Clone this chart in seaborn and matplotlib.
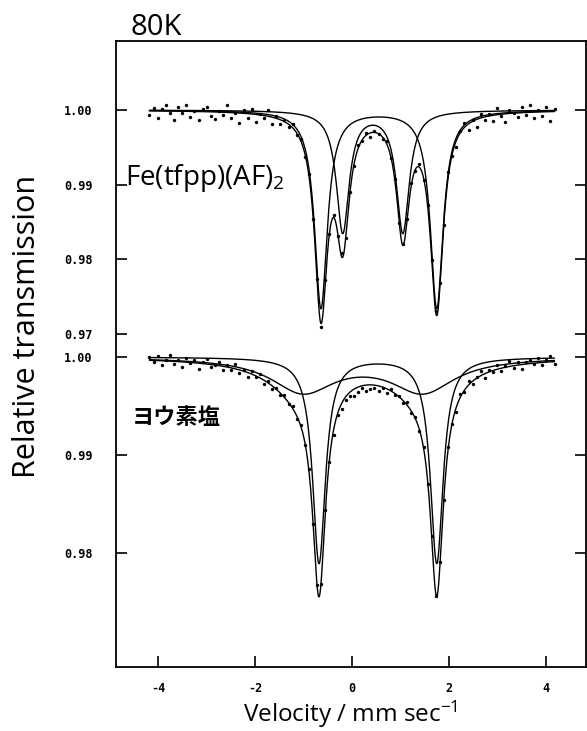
import numpy as np
import pandas as pd
import matplotlib
matplotlib.use("Agg")
import matplotlib.pyplot as plt
import seaborn as sns

sns.set_style("white")
plt.rcParams['font.family'] = ['Open Sans', 'DejaVu Sans']
plt.rcParams['mathtext.fontset'] = 'custom'
plt.rcParams['mathtext.rm'] = 'Open Sans'
plt.rcParams['mathtext.it'] = 'Open Sans'
plt.rcParams['mathtext.bf'] = 'Open Sans:bold'
for k in ['text.color', 'axes.labelcolor', 'xtick.color', 'ytick.color', 'axes.edgecolor']:
    plt.rcParams[k] = 'black'

# ---------------- data ----------------
title_text = "80K"
label_upper = "Fe(tfpp)(AF)$_2$"
label_lower = "ヨウ素塩"
xlabel_text = "Velocity / mm sec$^{-1}$"
ylabel_text = "Relative transmission"

x_ticks = [-4, -2, 0, 2, 4]
x_tick_labels = ["-4", "-2", "0", "2", "4"]
y_ticks_upper = [1.00, 0.99, 0.98, 0.97]
y_tick_labels_upper = ["1.00", "0.99", "0.98", "0.97"]
y_ticks_lower = [1.00, 0.99, 0.98]
y_tick_labels_lower = ["1.00", "0.99", "0.98"]

# fitted doublets: (line 1 velocity, line 2 velocity, depth, half width)
upper_doublet_a = (-0.64, 1.75, 0.0265, 0.16)
upper_doublet_b = (-0.19, 1.05, 0.0163, 0.16)
lower_doublet_narrow = (-0.68, 1.75, 0.0210, 0.16)
lower_doublet_broad = (-1.01, 1.46, 0.00347, 0.80)

velocity_range = (-4.18, 4.18)
n_channels = 100

# residuals of the measured points from the fit (units of 1e-4)
resid_upper = [-6, 4, -10, 2, 8, -3, -12, 5, -2, 9, -8, 1, -11, 3, 6, -5, -9, 2, -4, 10,
               -7, 0, -13, 4, -6, 7, -10, 1, -3, 8, -9, 3, -6, 2, -4,
               5, -3, 2, -4, 3, -2, 4, -5, 2, -1, 3, -4, 5, -2, 1, -3, 4, -2, 3, -5,
               2, -1, -3, 4, -2, 3, -4, 2, -1, 3, -2, 4, -3, 2, -1, 3,
               4, -6, 8, -3, -9, 2, 6, -8, 1, -10, 5, -4, 3, -7, 9, -2, -11, 4, 0,
               -6, 7, -3, 10, -8, 2, -5, 6, -12, 3]
resid_lower = [3, -2, 5, -4, 1, 6, -3, 2, -5, 4, -1, 3, -6, 2, 5, -3, 0, 4, -4, 2,
               -2, 5, -3, 1, -5, 3, -1, 4, -4, 2, -3, 1, -2, 3, -1,
               2, -3, 1, -2, 3, -1, 2, -4, 1, -3, -5, -2, -6, -3, -4, -7, -5, -2, -6,
               -4, -3, -5, -1, -4, 2, -1, 1, -2, 3, -2, 2, -1, 1, -3, 2, -2,
               3, -4, 2, -1, -5, 3, -2, 4, -3, 1, 5, -4, 2, -2, 4, -3, 1, 6, -2,
               3, -5, 2, 4, -1, 5, -3, 2, 6, -2]


def doublet(v, p):
    v1, v2, d, g = p
    return d * g**2 / ((v - v1)**2 + g**2) + d * g**2 / ((v - v2)**2 + g**2)


v_fine = np.linspace(velocity_range[0], velocity_range[1], 1200)
v_data = np.linspace(velocity_range[0], velocity_range[1], n_channels)

# ---------------- figure ----------------
W, H = 587, 731
fig = plt.figure(figsize=(W / 100, H / 100), dpi=100)
fig.patch.set_facecolor("white")
pos = [116 / W, 64 / H, 470 / W, 626 / H]
ax_lo = fig.add_axes(pos)
ax_up = fig.add_axes(pos)
ax_up.patch.set_visible(False)
for s in ax_up.spines.values():
    s.set_visible(False)
for s in ax_lo.spines.values():
    s.set_linewidth(1.3)
    s.set_color("black")

xlim = (-4.87, 4.83)
ax_lo.set_xlim(*xlim)
ax_up.set_xlim(*xlim)
ax_up.set_ylim(0.92541, 1.00924)
ax_lo.set_ylim(0.96837, 1.03224)

line_kw = dict(color="black", linewidth=1.0, estimator=None, sort=False, legend=False)
pt_kw = dict(color="black", s=6, linewidth=0, legend=False)

# upper spectrum
a_up = doublet(v_fine, upper_doublet_a)
b_up = doublet(v_fine, upper_doublet_b)
sns.lineplot(x=v_fine, y=1 - a_up, ax=ax_up, **line_kw)
sns.lineplot(x=v_fine, y=1 - b_up, ax=ax_up, **line_kw)
sns.lineplot(x=v_fine, y=1 - a_up - b_up, ax=ax_up, **line_kw)
fit_up_data = 1 - doublet(v_data, upper_doublet_a) - doublet(v_data, upper_doublet_b)
df_up = pd.DataFrame({"v": v_data, "T": fit_up_data + np.array(resid_upper) * 1e-4})
sns.scatterplot(data=df_up, x="v", y="T", ax=ax_up, **pt_kw)

# lower spectrum
n_lo = doublet(v_fine, lower_doublet_narrow)
b_lo = doublet(v_fine, lower_doublet_broad)
sns.lineplot(x=v_fine, y=1 - n_lo, ax=ax_lo, **line_kw)
sns.lineplot(x=v_fine, y=1 - b_lo, ax=ax_lo, **line_kw)
sns.lineplot(x=v_fine, y=1 - n_lo - b_lo, ax=ax_lo, **line_kw)
fit_lo_data = 1 - doublet(v_data, lower_doublet_narrow) - doublet(v_data, lower_doublet_broad)
df_lo = pd.DataFrame({"v": v_data, "T": fit_lo_data + np.array(resid_lower) * 1e-4})
sns.scatterplot(data=df_lo, x="v", y="T", ax=ax_lo, **pt_kw)

for ax in (ax_up, ax_lo):
    ax.set_xlabel("")
    ax.set_ylabel("")

tick_font = dict(family="DejaVu Sans Mono", weight="bold", size=8.5)

ax_lo.set_xticks(x_ticks)
ax_lo.set_xticklabels(x_tick_labels, fontdict=tick_font)
ax_lo.set_yticks(y_ticks_lower)
ax_lo.set_yticklabels(y_tick_labels_lower, fontdict=tick_font)
ax_lo.tick_params(axis="x", direction="in", length=8, width=1.2, bottom=True, top=False, pad=11)
ax_lo.tick_params(axis="y", direction="in", length=8, width=1.2, left=True, right=True,
                  labelright=False, pad=17)

ax_up.set_xticks([])
ax_up.set_yticks(y_ticks_upper)
ax_up.set_yticklabels(y_tick_labels_upper, fontdict=tick_font)
ax_up.tick_params(axis="x", bottom=False, top=False, labelbottom=False)
ax_up.tick_params(axis="y", direction="in", length=8, width=1.2, left=True, right=True,
                  labelright=False, pad=17)

# texts
fig.text(130 / W, 1 - 35 / H, title_text, fontsize=21, ha="left", va="baseline")
fig.text(125 / W, 1 - 185 / H, label_upper, fontsize=20, ha="left", va="baseline")
fig.text(132 / W, 1 - 418 / H, label_lower, fontsize=16, ha="left", va="center",
         family=["Noto Sans CJK JP", "DejaVu Sans"], weight="bold")
fig.text(350 / W, 1 - 722 / H, xlabel_text, fontsize=17.5, ha="center", va="baseline")
fig.text(27 / W, 1 - 326 / H, ylabel_text, fontsize=22, ha="center", va="center", rotation=90)

fig.savefig("out.png", dpi=100, facecolor="white")
